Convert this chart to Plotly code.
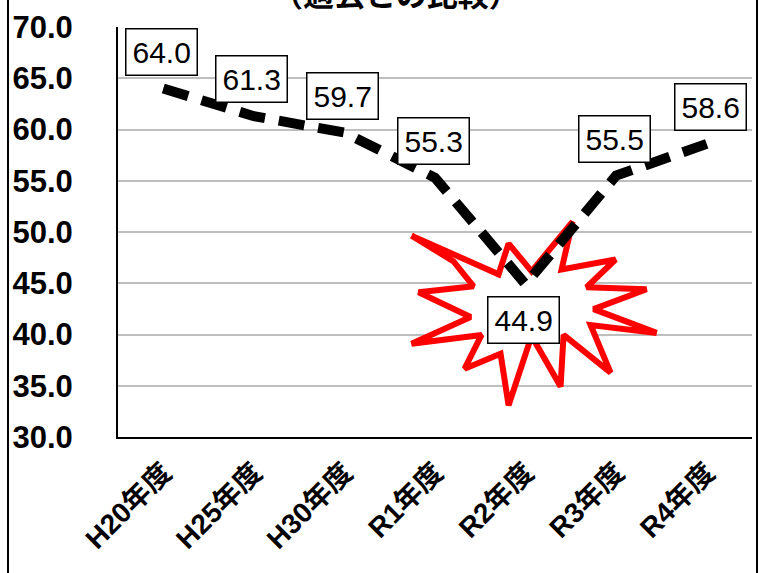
import plotly.graph_objects as go

# ---- data ----
categories = ["H20年度", "H25年度", "H30年度", "R1年度", "R2年度", "R3年度", "R4年度"]
values = [64.0, 61.3, 59.7, 55.3, 44.9, 55.5, 58.6]
y_ticks = [30, 35, 40, 45, 50, 55, 60, 65, 70]
title_text = "（過去との比較）"

# ---- layout geometry ----
W, H = 762, 573
ML, MR, MT, MB = 118, 10, 24, 136
PW, PH = W - ML - MR, H - MT - MB
Y0, Y1 = 30, 70
px_per_cat = PW / len(categories)
px_per_unit = PH / (Y1 - Y0)

# starburst decoration outline (pixel offsets relative to the R2 point, +y down)
burst_idx = 4
burst_px = [(-114, -49), (-27, -10), (-17, -41), (6, -13), (47, -63), (36, -15),
            (90, -25), (61, 3), (121, 5), (68, 25), (131, 49), (65, 41),
            (85, 89), (38, 51), (35, 103), (6, 52), (-17, 122), (-25, 70),
            (-61, 85), (-44, 51), (-114, 60), (-55, 33), (-107, 8), (-52, 2),
            (-72, -23)]
bx = [burst_idx + dx / px_per_cat for dx, dy in burst_px]
by = [values[burst_idx] - dy / px_per_unit for dx, dy in burst_px]
bx.append(bx[0]); by.append(by[0])

xs = list(range(len(categories)))

fig = go.Figure()
fig.add_trace(go.Scatter(x=bx, y=by, mode="lines", fill="toself",
                         fillcolor="white", line=dict(color="#FF0000", width=6),
                         hoverinfo="skip", showlegend=False))
fig.add_trace(go.Scatter(x=xs, y=values, mode="lines",
                         line=dict(color="black", width=10, dash="26px,14px"),
                         showlegend=False))

num_font = dict(family="Liberation Sans, Arial, sans-serif", size=30, color="black")
for i, v in enumerate(values):
    below = (i == burst_idx)
    fig.add_annotation(x=i, y=v, text=f"{v:.1f}", showarrow=False,
                       xshift=(4 if i == 6 else -2), yshift=(-36 if below else 37),
                       bgcolor="white", bordercolor="black", borderwidth=1.5,
                       borderpad=6, font=num_font)

# cut-off title at top
fig.add_annotation(xref="paper", yref="paper", x=(396 - ML) / PW, y=1 + (MT + 11) / PH,
                   text=f"<b>{title_text}</b>", showarrow=False, yanchor="middle",
                   font=dict(family="Noto Sans CJK JP, sans-serif", size=31, color="black"))

# outer frame
fig.add_shape(type="rect", xref="paper", yref="paper",
              x0=(8 - ML) / PW, x1=(757 - ML) / PW, y0=-0.6, y1=1.6,
              line=dict(color="black", width=2), fillcolor="rgba(0,0,0,0)", layer="above")

fig.update_layout(
    width=W, height=H,
    margin=dict(l=ML, r=MR, t=MT, b=MB),
    plot_bgcolor="white", paper_bgcolor="white",
    xaxis=dict(range=[-0.5, len(categories) - 0.5], tickvals=xs, ticktext=categories,
               tickangle=-45, showgrid=False, zeroline=False, showline=True,
               linecolor="black", linewidth=2, ticks="", ticklabelstandoff=6,
               tickfont=dict(family="Liberation Sans, Noto Sans CJK JP, sans-serif",
                             size=28, color="black", weight="bold")),
    yaxis=dict(range=[Y0, Y1], tickvals=y_ticks, tickformat=".1f",
               showgrid=True, gridcolor="#BEBEBE", gridwidth=1.5, zeroline=False,
               showline=True, linecolor="black", linewidth=2, ticks="",
               ticklabelstandoff=37,
               tickfont=dict(family="Liberation Sans, Arial, sans-serif",
                             size=31, color="black", weight="bold")),
)

fig.write_html("out.html")
